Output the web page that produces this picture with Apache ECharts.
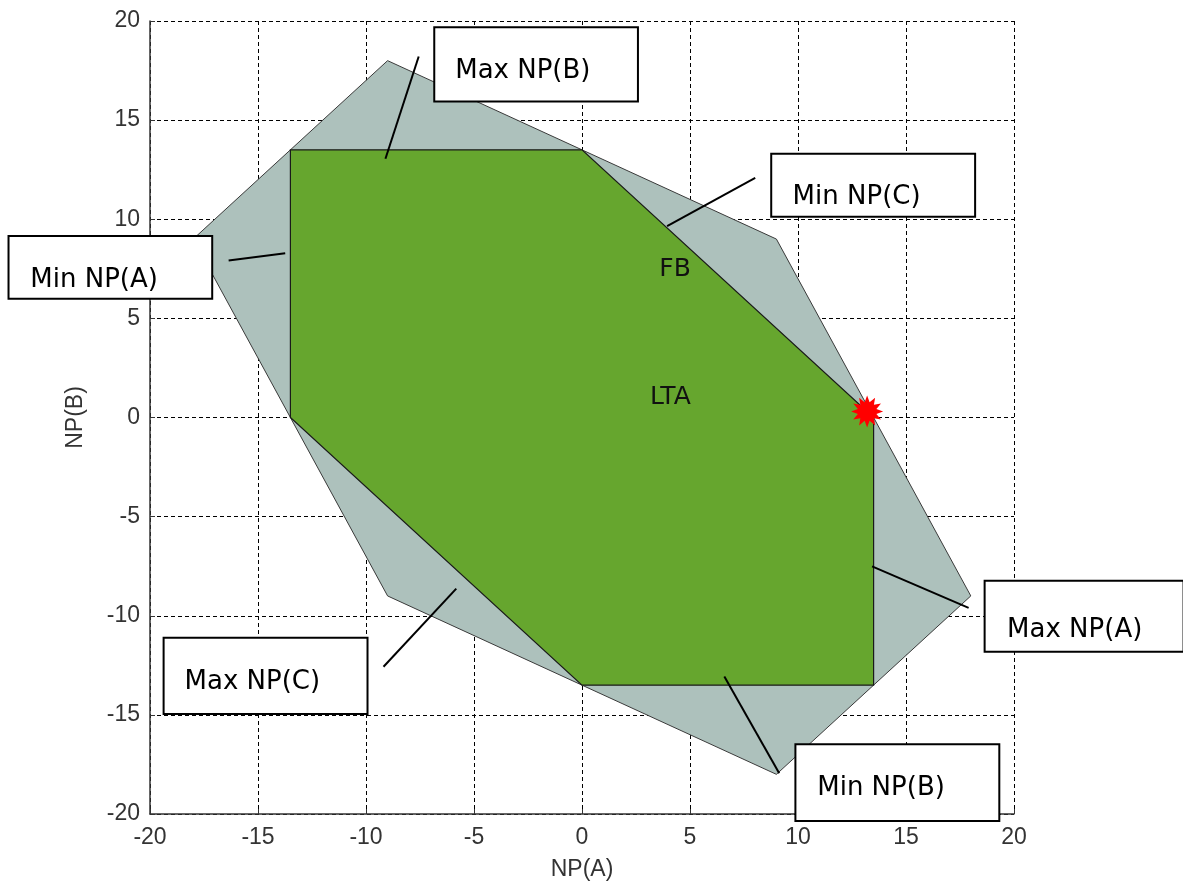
<!DOCTYPE html>
<html><head><meta charset="utf-8">
<script src="https://cdn.jsdelivr.net/npm/echarts@6/dist/echarts.min.js"></script>
<style>html,body{margin:0;padding:0;background:#fff}#c{width:1183px;height:886px}</style>
</head><body><div id="c"></div>
<script>
// ---- data ----
const axisMin = -20, axisMax = 20, axisStep = 5;
const outerX = [-9, 9, 18, 9, -9, -18];
const outerY = [18, 9, -9, -18, -9, 9];
const innerX = [-13.5, 0, 13.5, 13.5, 0, -13.5];
const innerY = [13.5, 13.5, 0, -13.5, -13.5, 0];
const starPoint = [13.2, 0.3];
const regionNames = ['FB', 'LTA'];
const regionX = [4.31, 4.09];
const regionY = [7.47, 1.02];
const noteText = ['Max NP(B)', 'Min NP(C)', 'Min NP(A)', 'Max NP(A)', 'Max NP(C)', 'Min NP(B)'];
// box corners (x1,y1,x2,y2) in axis units
const noteBox = [
  [-6.84, 19.68, 2.59, 15.94],
  [8.76, 13.31, 18.2, 10.12],
  [-26.55, 9.15, -17.12, 5.99],
  [18.64, -8.24, 27.85, -11.81],
  [-19.37, -11.11, -9.93, -14.95],
  [9.88, -16.48, 19.32, -20.35]
];
// text left / middle in axis units
const noteTextPos = [
  [-5.87, 17.46], [9.75, 11.13], [-25.54, 6.91], [19.68, -10.75], [-18.4, -13.35], [10.89, -18.72]
];
// leader lines (x1,y1,x2,y2)
const noteLine = [
  [-7.56, 18.21, -9.1, 13.05],
  [8.02, 12.09, 3.94, 9.65],
  [-16.36, 7.92, -13.74, 8.28],
  [13.43, -7.51, 17.9, -9.6],
  [-9.19, -12.57, -5.82, -8.63],
  [6.59, -13.06, 9.13, -17.94]
];

// ---- star symbol ----
function starPath(n, rIn) {
  let d = '';
  for (let i = 0; i < 2 * n; i++) {
    const r = i % 2 === 0 ? 1 : rIn;
    const a = Math.PI * i / n - Math.PI / 2;
    d += (i === 0 ? 'M' : 'L') + (r * Math.cos(a)).toFixed(3) + ' ' + (r * Math.sin(a)).toFixed(3);
  }
  return 'path://' + d + 'Z';
}

function polySeries(xs, ys, fill, stroke, lw, z) {
  return {
    type: 'custom', z: z, silent: true,
    data: xs.map((x, i) => [x, ys[i]]),
    renderItem: function (params, api) {
      if (params.dataIndex !== 0) return null;
      const pts = xs.map((x, i) => api.coord([x, ys[i]]));
      return { type: 'polygon', shape: { points: pts }, style: { fill: fill, stroke: stroke, lineWidth: lw } };
    }
  };
}

const axisCommon = {
  type: 'value', min: axisMin, max: axisMax, interval: axisStep,
  axisLine: { show: true, onZero: false, lineStyle: { color: '#333', width: 1.5 } },
  axisTick: { show: true, inside: true, length: 5, lineStyle: { color: '#333' } },
  splitLine: { show: true, lineStyle: { color: '#000', width: 1, type: [4, 3] } },
  axisLabel: { color: '#333', fontFamily: 'Liberation Sans', fontSize: 23 },
  nameLocation: 'middle',
  nameTextStyle: { color: '#333', fontFamily: 'Liberation Sans', fontSize: 23 }
};

const chart = echarts.init(document.getElementById('c'));
chart.setOption({
  animation: false,
  backgroundColor: '#fff',
  grid: { left: 150, right: 169, top: 21, bottom: 70, containLabel: false },
  xAxis: Object.assign({}, axisCommon, { name: 'NP(A)', nameGap: 44, axisLabel: Object.assign({}, axisCommon.axisLabel, { margin: 12 }) }),
  yAxis: Object.assign({}, axisCommon, { name: 'NP(B)', nameGap: 63, axisLabel: Object.assign({}, axisCommon.axisLabel, { margin: 10 }) }),
  series: [
    polySeries(outerX, outerY, '#adc1bc', '#3a3a3a', 1, 2),
    polySeries(innerX, innerY, '#66a62e', '#1a1a1a', 1.2, 3),
    {
      type: 'custom', z: 4, silent: true,
      data: regionNames.map((t, i) => [regionX[i], regionY[i], t]),
      renderItem: function (params, api) {
        const p = api.coord([api.value(0), api.value(1)]);
        return { type: 'text', x: p[0], y: p[1], style: { text: regionNames[params.dataIndex], fill: '#111', fontFamily: 'DejaVu Sans', fontSize: 25, align: 'center', verticalAlign: 'middle' } };
      }
    },
    {
      type: 'custom', z: 5, silent: true, clip: false,
      data: noteText.map((t, i) => [noteLine[i][0], noteLine[i][1]]),
      renderItem: function (params, api) {
        const i = params.dataIndex;
        const L = noteLine[i], B = noteBox[i], T = noteTextPos[i];
        const a = api.coord([L[0], L[1]]), b = api.coord([L[2], L[3]]);
        const c1 = api.coord([B[0], B[1]]), c2 = api.coord([B[2], B[3]]);
        const tp = api.coord([T[0], T[1]]);
        return {
          type: 'group', children: [
            { type: 'line', shape: { x1: a[0], y1: a[1], x2: b[0], y2: b[1] }, style: { stroke: '#000', lineWidth: 2 } },
            { type: 'rect', shape: { x: c1[0], y: c1[1], width: c2[0] - c1[0], height: c2[1] - c1[1] }, style: { fill: '#fff', stroke: '#000', lineWidth: 2 } },
            { type: 'text', x: tp[0], y: tp[1], style: { text: noteText[i], fill: '#000', fontFamily: 'DejaVu Sans', fontSize: 26, align: 'left', verticalAlign: 'middle' } }
          ]
        };
      }
    },
    {
      type: 'scatter', z: 6, silent: true,
      symbol: starPath(12, 0.6), symbolSize: 32,
      itemStyle: { color: '#ff0000', opacity: 1 },
      data: [starPoint]
    }
  ]
});
</script>
</body></html>
